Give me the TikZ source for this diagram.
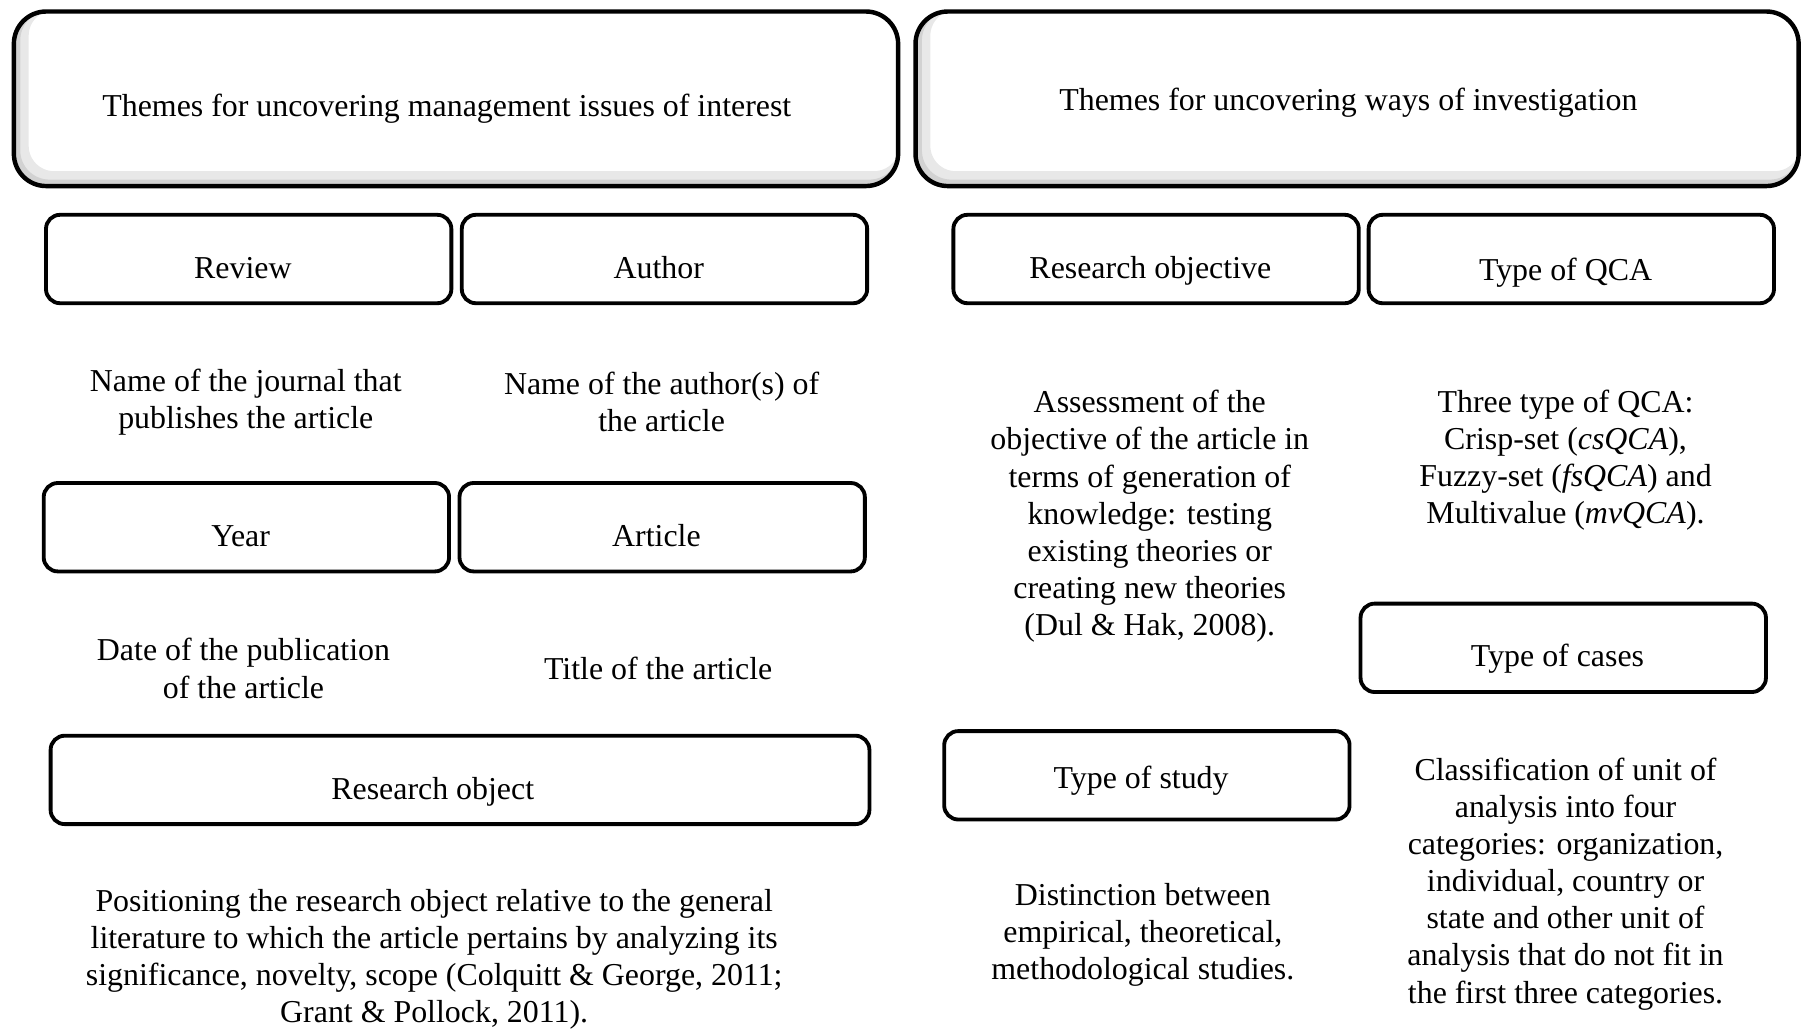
\documentclass[tikz,border=0pt]{standalone}
\usepackage{fontspec}
\setmainfont{Liberation Serif}
\begin{document}
\begin{tikzpicture}[x=0.02cm,y=-0.02cm,
  every node/.style={font=\fontsize{15.8}{18.4}\selectfont},
  theme/.style={draw,line width=2.2pt,rounded corners=16pt,minimum width=15.4cm,minimum height=3.04cm},
  tbox/.style={draw,line width=1.9pt,rounded corners=7pt,minimum width=7.06cm,minimum height=1.54cm,
    text height=22pt,text depth=3pt,execute at end node={\hspace*{0.2cm}}},
  desc/.style={align=center,inner sep=0pt},
  glow/.style={line width=6.8pt,rounded corners=16pt}]

\useasboundingbox (0,0) rectangle (1568,896);

%inner shadow of the two theme boxes
\begin{scope}
\clip[rounded corners=16pt] (12,10) rectangle (782,162);
\draw[glow,gray!18] (19,3) rectangle (789,155);
\draw[glow,gray!35,line width=3pt] (15,7) rectangle (785,159);
\end{scope}
\begin{scope}
\clip[rounded corners=16pt] (797,10) rectangle (1566,162);
\draw[glow,gray!18] (804,3) rectangle (1573,155);
\draw[glow,gray!35,line width=3pt] (800,7) rectangle (1569,159);
\end{scope}

%theme boxes
\node[theme] (mgmt) at (397,86) {};
\node at (389,95) (mgmttext) {Themes for uncovering management issues of interest};
\node[theme,minimum width=15.38cm] (ways) at (1181.5,86) {};
\node at (1174,89) (waystext) {Themes for uncovering ways of investigation};

%left column
\node[tbox] (review) at (216.5,225.5) {Review};
\node[tbox] (author) at (578.5,225.5) {Author};
\node[desc] (journal) at (214,350) {Name of the journal that\\publishes the article};
\node[desc] (names) at (576,350) {Name of the author(s) of\\the article};

\node[tbox] (year) at (214.5,459) {Year};
\node[tbox] (article) at (576.5,459) {Article};
\node[desc] (date) at (212,582) {Date of the publication\\of the article};
\node[desc] (title) at (573,582) {Title of the article};

\node[tbox,minimum width=14.26cm] (object) at (400.5,679) {Research object\hspace*{0.75cm}};
\node[desc] (position) at (378,835) {Positioning the research object relative to the general\\literature to which the article pertains by analyzing its\\significance, novelty, scope (Colquitt \& George, 2011;\\Grant \& Pollock, 2011).};

%right column
\node[tbox] (objective) at (1006.5,225.5) {Research objective};
\node[tbox,text height=24pt] (qca) at (1368,225.5) {Type of QCA};
\node[desc] (assess) at (1001,449.5) {Assessment of the\\objective of the article in\\terms of generation of\\knowledge: testing\\existing theories or\\creating new theories\\(Dul \& Hak, 2008).};
\node[desc] (three) at (1363,400.5) {Three type of QCA:\\Crisp-set (\textit{csQCA}),\\Fuzzy-set (\textit{fsQCA}) and\\Multivalue (\textit{mvQCA}).};

\node[tbox] (cases) at (1361,564) {Type of cases};
\node[tbox,text height=16pt] (study) at (998.5,675) {Type of study};
\node[desc] (distinct) at (995,814) {Distinction between\\empirical, theoretical,\\methodological studies.};
\node[desc] (classif) at (1363,769.5) {Classification of unit of\\analysis into four\\categories: organization,\\individual, country or\\state and other unit of\\analysis that do not fit in\\the first three categories.};

\end{tikzpicture}
\end{document}
